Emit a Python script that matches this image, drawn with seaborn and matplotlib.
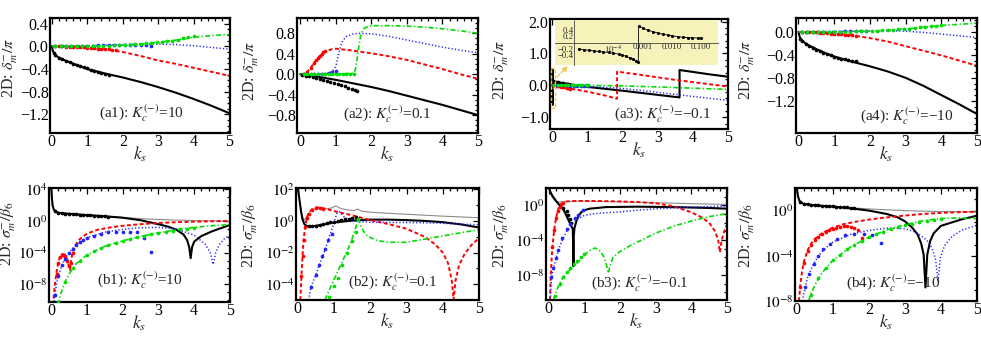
import numpy as np
import pandas as pd
import matplotlib
matplotlib.use("Agg")
import matplotlib.pyplot as plt
import seaborn as sns
from matplotlib.ticker import FixedLocator, FuncFormatter, MultipleLocator, NullFormatter

sns.set_style("white")
plt.rcParams.update({
    "font.family": "serif",
    "font.serif": ["Liberation Serif", "DejaVu Serif"],
    "mathtext.fontset": "stix",
    "axes.unicode_minus": True,
})

# ---------------- data: top row, phase shift delta/pi (k, value) ----------------
A1_BLACK = [(0, 0), (0.03, -0.08), (0.07, -0.13), (0.15, -0.18), (0.3, -0.23), (0.5, -0.28), (0.75, -0.34),
            (1.0, -0.40), (1.5, -0.48), (2.0, -0.55), (2.5, -0.63), (3.0, -0.72), (3.5, -0.82), (4.0, -0.93),
            (4.5, -1.05), (5.0, -1.18)]
A1_BLACK_DOTS = [(0.05, -0.12), (0.1, -0.16), (0.2, -0.2), (0.3, -0.23), (0.4, -0.26), (0.5, -0.28), (0.6, -0.31),
                 (0.7, -0.33), (0.8, -0.35), (0.9, -0.37), (1.0, -0.39), (1.1, -0.41), (1.2, -0.43), (1.3, -0.45),
                 (1.4, -0.47), (1.5, -0.49), (1.6, -0.5)]
A1_RED = [(0, 0), (0.5, -0.005), (1.0, -0.02), (1.5, -0.05), (2.0, -0.1), (2.5, -0.17), (3.0, -0.25), (3.5, -0.31),
          (4.0, -0.38), (4.5, -0.45), (5.0, -0.52)]
A1_RED_DOTS = [(0.1, 0), (0.2, 0), (0.3, 0), (0.4, -0.005), (0.5, -0.01), (0.6, -0.01), (0.7, -0.015), (0.8, -0.02),
               (0.9, -0.02), (1.0, -0.025), (1.1, -0.03), (1.2, -0.035), (1.3, -0.04), (1.4, -0.045), (1.5, -0.05),
               (1.6, -0.055), (1.7, -0.06), (1.8, -0.06)]
A1_BLUE = [(0, 0), (1.0, 0.01), (2.0, 0.03), (2.5, 0.04), (3.0, 0.04), (3.5, 0.03), (4.0, 0.01), (4.5, -0.02),
           (5.0, -0.05)]
A1_BLUE_DOTS = [(0.1, 0), (0.25, 0), (0.4, 0), (0.55, 0), (0.7, 0.005), (0.85, 0.005), (1.0, 0.01), (1.15, 0.01),
                (1.3, 0.015), (1.45, 0.015), (1.6, 0.02), (1.75, 0.02), (1.9, 0.025), (2.05, 0.025), (2.2, 0.03),
                (2.35, 0.03), (2.5, 0.03), (2.65, 0.02), (2.8, 0.0)]
A1_GREEN = [(0, 0), (1.0, 0.005), (2.0, 0.02), (2.5, 0.04), (3.0, 0.07), (3.5, 0.11), (4.0, 0.16), (4.5, 0.19),
            (5.0, 0.21)]
A1_GREEN_DOTS = [(0.1, 0), (0.25, 0), (0.4, 0), (0.55, 0), (0.7, 0), (0.85, 0), (1.0, 0.005), (1.15, 0.005),
                 (1.3, 0.01), (1.45, 0.01), (1.6, 0.01), (1.75, 0.015), (1.9, 0.02), (2.05, 0.02), (2.2, 0.03),
                 (2.35, 0.035), (2.5, 0.04), (2.65, 0.05), (2.8, 0.06), (2.95, 0.07), (3.1, 0.08), (3.25, 0.09),
                 (3.4, 0.1), (3.55, 0.12), (3.7, 0.14), (3.85, 0.16), (4.0, 0.18)]

A2_BLACK = [(0, 0), (0.5, -0.05), (1.0, -0.11), (1.5, -0.18), (2.0, -0.25), (2.5, -0.33), (3.0, -0.42), (3.5, -0.51),
            (4.0, -0.6), (4.5, -0.7), (5.0, -0.8)]
A2_BLACK_DOTS = [(0.05, -0.01), (0.15, -0.03), (0.25, -0.04), (0.35, -0.06), (0.45, -0.08), (0.55, -0.1),
                 (0.65, -0.11), (0.75, -0.13), (0.85, -0.15), (0.95, -0.17), (1.05, -0.19), (1.15, -0.21),
                 (1.25, -0.23), (1.35, -0.26), (1.45, -0.29), (1.55, -0.31), (1.6, -0.33)]
A2_RED = [(0, 0), (0.1, 0.01), (0.2, 0.05), (0.3, 0.13), (0.4, 0.23), (0.5, 0.32), (0.6, 0.39), (0.7, 0.44),
          (0.8, 0.47), (0.9, 0.49), (1.0, 0.5), (1.5, 0.46), (2.0, 0.41), (2.5, 0.35), (3.0, 0.28), (3.5, 0.19),
          (4.0, 0.1), (4.5, 0.0), (5.0, -0.09)]
A2_RED_DOTS = [(0.1, 0.01), (0.2, 0.04), (0.3, 0.12), (0.4, 0.22), (0.45, 0.27), (0.5, 0.32), (0.55, 0.36),
               (0.6, 0.4), (0.65, 0.43), (0.7, 0.46)]
A2_BLUE = [(0, 0), (0.5, 0.0), (0.8, 0.02), (0.9, 0.05), (1.0, 0.15), (1.05, 0.3), (1.1, 0.45), (1.15, 0.58),
           (1.2, 0.66), (1.3, 0.74), (1.5, 0.79), (1.7, 0.8), (2.0, 0.79), (2.5, 0.74), (3.0, 0.67), (3.5, 0.6),
           (4.0, 0.53), (4.5, 0.47), (5.0, 0.42)]
A2_BLUE_DOTS = [(0.1, 0), (0.2, 0), (0.3, 0), (0.4, 0), (0.5, 0), (0.6, 0.005), (0.7, 0.01), (0.8, 0.02),
                (0.9, 0.04), (1.0, 0.07)]
A2_GREEN = [(0, 0), (1.0, 0.0), (1.5, 0.02), (1.55, 0.08), (1.6, 0.3), (1.65, 0.55), (1.7, 0.75), (1.75, 0.85),
            (1.8, 0.9), (1.9, 0.93), (2.0, 0.95), (2.5, 0.95), (3.0, 0.94), (3.5, 0.92), (4.0, 0.89), (4.5, 0.85),
            (5.0, 0.8)]
A2_GREEN_DOTS = [(0.1, 0), (0.2, 0), (0.3, 0), (0.4, 0), (0.5, 0), (0.6, 0), (0.7, 0), (0.8, 0), (0.9, 0),
                 (1.0, 0.005), (1.1, 0.005), (1.2, 0.005), (1.3, 0.01), (1.4, 0.01), (1.5, 0.01)]

A3_BLACK = [(0.0, -0.15), (0.001, -0.62), (0.001, 0.5), (0.02, 0.15), (0.1, 0.1), (1.0, -0.05), (2.0, -0.17),
            (3.0, -0.3), (3.62, -0.38), (3.62, 0.48), (4.0, 0.42), (4.5, 0.34), (5.0, 0.27)]
A3_BLACK_DOTS = [(0.02, 0.12), (0.05, 0.11), (0.1, 0.1), (0.15, 0.09), (0.2, 0.08), (0.25, 0.07), (0.3, 0.06),
                 (0.35, 0.05), (0.4, 0.04), (0.45, 0.03), (0.5, 0.02)]
A3_RED = [(0, 0), (0.5, -0.1), (1.0, -0.2), (1.5, -0.32), (1.84, -0.42), (1.84, 0.43), (2.5, 0.33), (3.0, 0.25),
          (3.5, 0.17), (4.0, 0.1), (4.5, 0.03), (5.0, -0.04)]
A3_RED_DOTS = [(0.05, 0), (0.1, -0.01), (0.15, -0.02), (0.2, -0.03), (0.25, -0.04), (0.3, -0.05), (0.35, -0.06),
               (0.4, -0.08), (0.45, -0.09), (0.5, -0.1)]
A3_BLUE = [(0, 0), (0.5, 0.0), (1.0, -0.03), (2.0, -0.1), (3.0, -0.22), (4.0, -0.35), (5.0, -0.47)]
A3_BLUE_DOTS = [(0.1, 0), (0.2, 0), (0.3, 0), (0.4, -0.005), (0.5, -0.01), (0.6, -0.01), (0.7, -0.015),
                (0.8, -0.02), (0.9, -0.02), (1.0, -0.03)]
A3_GREEN = [(0, 0), (1.0, 0.0), (2.0, -0.02), (3.0, -0.05), (4.0, -0.09), (5.0, -0.13)]
A3_GREEN_DOTS = [(0.05, 0.02), (0.15, 0.02), (0.25, 0.02), (0.35, 0.02), (0.45, 0.02), (0.55, 0.015),
                 (0.65, 0.01), (0.75, 0.01), (0.85, 0.005), (0.95, 0.0), (1.0, 0.0)]

# inset of (a3): k on log axis
A3_INSET_LINE = [(6.5e-6, -0.2), (1.4e-5, -0.24), (3.2e-5, -0.28), (6.8e-5, -0.31), (1.5e-4, -0.36),
                 (2.75e-4, -0.43), (4.8e-4, -0.52), (7.1e-4, -0.62), (7.3e-4, 0.5), (1.0e-3, 0.45),
                 (1.55e-3, 0.38), (3.4e-3, 0.29), (7.2e-3, 0.23), (1.6e-2, 0.18), (3.5e-2, 0.15),
                 (7.6e-2, 0.14), (0.11, 0.13)]
A3_INSET_DOTS = [(6.5e-6, -0.2), (1.0e-5, -0.22), (1.5e-5, -0.24), (2.2e-5, -0.26), (3.2e-5, -0.27),
                 (4.5e-5, -0.29), (6.8e-5, -0.31), (1e-4, -0.33), (1.5e-4, -0.36), (2.0e-4, -0.39),
                 (2.8e-4, -0.43), (3.8e-4, -0.48), (4.8e-4, -0.52), (6.0e-4, -0.57), (7.1e-4, -0.62),
                 (7.5e-4, 0.5), (1.0e-3, 0.45), (1.5e-3, 0.38), (2.2e-3, 0.33), (3.4e-3, 0.29), (5e-3, 0.25),
                 (7.2e-3, 0.23), (1.0e-2, 0.21), (1.6e-2, 0.18), (2.5e-2, 0.16), (3.5e-2, 0.15), (5e-2, 0.145),
                 (7.6e-2, 0.14), (0.1, 0.13)]

A4_BLACK = [(0, 0), (0.03, -0.08), (0.07, -0.13), (0.15, -0.18), (0.3, -0.24), (0.5, -0.3), (0.75, -0.37),
            (1.0, -0.43), (1.5, -0.52), (2.0, -0.6), (2.5, -0.69), (3.0, -0.8), (3.5, -0.94), (4.0, -1.1),
            (4.5, -1.26), (5.0, -1.43)]
A4_BLACK_DOTS = [(0.05, -0.12), (0.1, -0.16), (0.2, -0.21), (0.3, -0.25), (0.4, -0.28), (0.5, -0.31), (0.6, -0.34),
                 (0.7, -0.37), (0.8, -0.39), (0.9, -0.41), (1.0, -0.43), (1.1, -0.45), (1.2, -0.47), (1.3, -0.48),
                 (1.4, -0.49), (1.5, -0.5), (1.6, -0.5)]
A4_RED = [(0, 0), (0.5, -0.01), (1.0, -0.03), (1.5, -0.06), (2.0, -0.11), (2.5, -0.17), (3.0, -0.25), (3.5, -0.33),
          (4.0, -0.41), (4.5, -0.5), (5.0, -0.59)]
A4_RED_DOTS = [(0.1, 0), (0.2, 0), (0.3, -0.005), (0.4, -0.01), (0.5, -0.01), (0.6, -0.015), (0.7, -0.02),
               (0.8, -0.025), (0.9, -0.03), (1.0, -0.035), (1.1, -0.04), (1.2, -0.045), (1.3, -0.05),
               (1.4, -0.055), (1.5, -0.06), (1.6, -0.07)]
A4_BLUE = [(0, 0), (1.0, 0.005), (2.0, 0.015), (2.5, 0.02), (3.0, 0.01), (3.5, -0.01), (4.0, -0.04), (4.5, -0.07),
           (5.0, -0.1)]
A4_BLUE_DOTS = [(0.1, 0), (0.25, 0), (0.4, 0), (0.55, 0.005), (0.7, 0.005), (0.85, 0.005), (1.0, 0.005),
                (1.15, 0.005), (1.3, 0.01), (1.45, 0.01), (1.6, 0.01), (1.75, 0.01), (1.9, 0.01)]
A4_GREEN = [(0, 0), (1.0, 0.003), (2.0, 0.01), (2.5, 0.03), (3.0, 0.05), (3.5, 0.08), (4.0, 0.11), (4.5, 0.13),
            (5.0, 0.15)]
A4_GREEN_DOTS = [(0.1, 0), (0.25, 0), (0.4, 0), (0.55, 0), (0.7, 0), (0.85, 0), (1.0, 0.003), (1.15, 0.003),
                 (1.3, 0.005), (1.45, 0.005), (1.6, 0.007), (1.75, 0.008), (1.9, 0.01), (2.05, 0.012),
                 (2.2, 0.018), (2.35, 0.024), (2.5, 0.03), (2.65, 0.036), (2.8, 0.042), (2.95, 0.048),
                 (3.1, 0.055), (3.25, 0.065), (3.4, 0.075), (3.55, 0.085), (3.7, 0.095), (3.85, 0.105), (4.0, 0.12)]

# ---------------- data: bottom row, cross section (k, log10 sigma/beta6) ----------------
B1_BLACK = [(0.005, 4.2), (0.02, 3.0), (0.04, 2.0), (0.07, 1.5), (0.12, 1.2), (0.2, 1.05), (0.4, 0.95), (0.7, 0.85),
            (1.0, 0.75), (1.5, 0.6), (2.0, 0.42), (2.5, 0.1), (3.0, -0.4), (3.3, -0.75), (3.5, -1.1), (3.7, -1.7),
            (3.8, -2.4), (3.86, -3.3), (3.9, -4.7), (3.94, -3.3), (4.0, -2.6), (4.2, -1.9), (4.5, -1.3),
            (5.0, -0.5)]
B1_BLACK_DOTS = [(0.1, 1.25), (0.2, 1.05), (0.3, 1.0), (0.4, 0.95), (0.5, 0.92), (0.6, 0.88), (0.7, 0.85),
                 (0.8, 0.82), (0.9, 0.78), (1.0, 0.75), (1.1, 0.72), (1.2, 0.69), (1.3, 0.66), (1.4, 0.63),
                 (1.5, 0.6), (1.6, 0.57)]
B1_GRAY = [(0.005, 4.2), (0.02, 3.0), (0.04, 2.0), (0.07, 1.5), (0.12, 1.2), (0.2, 1.05), (0.4, 0.95), (0.7, 0.85),
           (1.0, 0.75), (1.5, 0.6), (2.0, 0.45), (2.5, 0.3), (3.0, 0.2), (3.5, 0.12), (4.0, 0.06), (4.5, 0.02),
           (5.0, -0.02)]
B1_RED = [(0.05, -10.6), (0.1, -8.2), (0.15, -6.5), (0.2, -5.2), (0.25, -4.5), (0.3, -4.2), (0.35, -4.2),
          (0.4, -4.4), (0.45, -4.9), (0.5, -5.8), (0.53, -6.2), (0.56, -5.0), (0.6, -3.9), (0.7, -2.9), (0.8, -2.3),
          (1.0, -1.6), (1.3, -1.1), (1.6, -0.85), (2.0, -0.6), (2.5, -0.4), (3.0, -0.25), (3.5, -0.15),
          (4.0, -0.08), (4.5, -0.03), (5.0, 0.0)]
B1_RED_DOTS = [(0.15, -6.7), (0.2, -5.3), (0.25, -4.6), (0.3, -4.3), (0.35, -4.3), (0.4, -4.5), (0.45, -5.0),
               (0.5, -5.7), (0.55, -5.3), (0.6, -4.0)]
B1_BLUE = [(0.08, -10.6), (0.1, -9.5), (0.15, -8.0), (0.2, -7.0), (0.3, -5.6), (0.4, -4.7), (0.5, -4.0),
           (0.7, -3.0), (1.0, -2.1), (1.5, -1.4), (2.0, -1.05), (2.5, -0.85), (3.0, -0.8), (3.5, -1.0), (4.0, -1.8),
           (4.3, -2.9), (4.45, -4.0), (4.53, -5.5), (4.6, -4.0), (4.7, -3.0), (4.85, -2.2), (5.0, -1.75)]
B1_BLUE_DOTS = [(0.1, -9.4), (0.2, -7.0), (0.3, -5.6), (0.4, -4.8), (0.5, -4.1), (0.6, -3.5), (0.7, -3.0),
                (0.8, -2.7), (0.9, -2.4), (1.0, -2.2), (1.2, -1.85), (1.4, -1.6), (1.6, -1.45), (1.8, -1.35),
                (2.0, -1.35), (2.2, -1.35), (2.4, -1.45), (2.6, -2.1), (2.8, -3.9)]
B1_GREEN = [(0.18, -10.6), (0.25, -9.5), (0.3, -8.8), (0.4, -7.6), (0.5, -6.7), (0.7, -5.4), (1.0, -4.3),
            (1.5, -3.2), (2.0, -2.5), (2.5, -1.95), (3.0, -1.5), (3.5, -1.1), (4.0, -0.8), (4.5, -0.6), (5.0, -0.45)]
B1_GREEN_DOTS = [(0.2, -10.3), (0.4, -7.7), (0.6, -6.0), (0.8, -5.0), (1.0, -4.3), (1.2, -3.8), (1.4, -3.4),
                 (1.6, -3.05), (1.8, -2.75), (2.0, -2.5), (2.2, -2.3), (2.4, -2.05), (2.6, -1.85), (2.8, -1.7),
                 (3.0, -1.5), (3.2, -1.35), (3.4, -1.2), (3.6, -1.05), (3.8, -0.95), (4.0, -0.82)]

B2_BLACK = [(0.0, 2.1), (0.03, 1.6), (0.06, 1.1), (0.09, 0.6), (0.13, 0.1), (0.18, -0.2), (0.25, -0.33),
            (0.32, -0.36), (0.45, -0.33), (0.6, -0.27), (0.8, -0.18), (1.0, -0.1), (1.5, 0.02), (2.0, 0.08),
            (2.5, 0.08), (3.0, 0.05), (3.5, 0.0), (4.0, -0.08), (4.5, -0.22), (5.0, -0.42)]
B2_BLACK_DOTS = [(0.3, -0.35), (0.4, -0.33), (0.5, -0.3), (0.6, -0.25), (0.7, -0.2), (0.8, -0.15), (0.9, -0.1),
                 (1.0, -0.05), (1.1, 0.0), (1.2, 0.05), (1.3, 0.1), (1.4, 0.15), (1.5, 0.2), (1.6, 0.25)]
B2_GRAY = [(0.0, 2.1), (0.03, 1.6), (0.06, 1.1), (0.09, 0.6), (0.13, 0.2), (0.18, 0.05), (0.25, 0.3), (0.35, 0.65),
           (0.5, 0.8), (0.7, 0.75), (0.9, 0.8), (1.05, 0.95), (1.15, 0.82), (1.3, 0.72), (1.55, 0.65),
           (1.65, 0.75), (1.75, 0.62), (2.0, 0.55), (2.5, 0.48), (3.0, 0.42), (3.5, 0.36), (4.0, 0.3),
           (4.5, 0.25), (5.0, 0.2)]
B2_RED = [(0.07, -5.0), (0.1, -3.5), (0.13, -2.2), (0.16, -1.2), (0.2, -0.4), (0.25, 0.2), (0.3, 0.5), (0.4, 0.75),
          (0.5, 0.85), (0.6, 0.85), (0.8, 0.75), (1.0, 0.62), (1.5, 0.35), (2.0, 0.05), (2.5, -0.2), (3.0, -0.5),
          (3.5, -1.0), (3.8, -1.5), (4.0, -2.0), (4.15, -2.7), (4.25, -3.8), (4.3, -5.0), (4.35, -3.8),
          (4.45, -2.8), (4.6, -2.1), (4.8, -1.5), (5.0, -1.1)]
B2_RED_DOTS = [(0.1, -3.5), (0.13, -2.2), (0.16, -1.2), (0.2, -0.4), (0.25, 0.2), (0.3, 0.45), (0.4, 0.7),
               (0.5, 0.8), (0.6, 0.8), (0.7, 0.75)]
B2_BLUE = [(0.3, -5.0), (0.36, -4.2), (0.5, -3.4), (0.6, -2.75), (0.7, -2.15), (0.8, -1.5), (0.9, -0.8),
           (1.0, -0.1), (1.07, 0.45), (1.13, 0.6), (1.2, 0.45), (1.3, 0.2), (1.5, 0.0), (2.0, -0.08), (2.5, -0.1),
           (3.0, -0.1), (3.5, -0.12), (4.0, -0.15), (4.5, -0.2), (5.0, -0.25)]
B2_BLUE_DOTS = [(0.36, -4.2), (0.5, -3.4), (0.59, -2.8), (0.68, -2.25), (0.75, -1.75), (0.84, -1.2), (0.93, -0.8)]
B2_GREEN = [(0.75, -5.0), (0.9, -4.2), (1.0, -3.7), (1.2, -2.7), (1.4, -1.7), (1.5, -1.1), (1.6, -0.4),
            (1.67, 0.15), (1.72, -0.2), (1.8, -0.6), (1.9, -0.9), (2.0, -1.05), (2.2, -1.25), (2.5, -1.35),
            (3.0, -1.35), (3.5, -1.15), (4.0, -0.95), (4.5, -0.75), (5.0, -0.55)]
B2_GREEN_DOTS = [(0.87, -4.8), (1.0, -4.1), (1.1, -3.6), (1.23, -2.8), (1.37, -2.0), (1.5, -1.3), (1.6, -0.7),
                 (1.67, 0.1)]

B3_BLACK = [(0.0, 2.0), (0.05, 1.5), (0.1, 1.1), (0.17, 0.7), (0.25, 0.25), (0.36, -0.2), (0.45, -0.8),
            (0.55, -1.7), (0.62, -2.3), (0.67, -2.7), (0.68, -4.0), (0.69, -7.0), (0.7, -3.5), (0.72, -2.6),
            (0.78, -1.7), (0.85, -1.1), (0.92, -0.75), (1.0, -0.55), (1.15, -0.38), (1.6, -0.2), (2.5, -0.15),
            (3.5, -0.2), (4.5, -0.3), (5.0, -0.38)]
B3_BLACK_DOTS = [(0.3, 0.0), (0.4, -0.35), (0.5, -0.7), (0.55, -1.1), (0.6, -1.6), (0.63, -2.0)]
B3_GRAY = [(0.0, 2.0), (0.05, 1.3), (0.1, 0.9), (0.15, 0.6), (0.2, 0.45), (0.3, 0.4), (0.5, 0.45), (0.8, 0.5),
           (1.0, 0.5), (1.5, 0.45), (2.0, 0.4), (3.0, 0.3), (4.0, 0.2), (5.0, 0.1)]
B3_RED = [(0.03, -10.9), (0.05, -8.5), (0.08, -6.0), (0.1, -4.8), (0.15, -2.8), (0.2, -1.5), (0.25, -0.6),
          (0.3, -0.1), (0.4, 0.3), (0.5, 0.45), (0.7, 0.5), (1.0, 0.5), (1.5, 0.5), (2.0, 0.45), (2.5, 0.38),
          (3.0, 0.25), (3.5, -0.1), (4.0, -0.8), (4.3, -1.4), (4.5, -2.0), (4.65, -2.9), (4.75, -3.9),
          (4.8, -5.4), (4.85, -4.0), (4.92, -3.0), (5.0, -2.2)]
B3_RED_DOTS = [(0.1, -4.8), (0.15, -2.8), (0.2, -1.5), (0.25, -0.7), (0.3, -0.2), (0.35, 0.1), (0.4, 0.25)]
B3_BLUE = [(0.04, -10.9), (0.07, -8.6), (0.12, -7.4), (0.2, -6.1), (0.3, -4.8), (0.4, -3.8), (0.5, -3.0),
           (0.6, -2.4), (0.7, -1.95), (0.8, -1.6), (1.0, -1.15), (1.3, -0.95), (1.6, -0.85), (2.0, -0.75),
           (2.5, -0.55), (3.0, -0.4), (3.5, -0.3), (4.0, -0.2), (4.5, -0.13), (5.0, -0.08)]
B3_BLUE_DOTS = [(0.07, -8.2), (0.12, -7.2), (0.19, -6.1), (0.26, -5.1), (0.36, -3.8), (0.5, -2.7), (0.59, -2.1),
                (0.73, -1.5), (0.82, -1.1), (0.96, -0.5)]
B3_GREEN = [(0.13, -10.9), (0.2, -10.0), (0.3, -9.0), (0.4, -8.3), (0.5, -7.8), (0.7, -7.0), (0.9, -6.2),
            (1.1, -5.3), (1.3, -4.9), (1.45, -5.3), (1.55, -6.0), (1.62, -6.9), (1.67, -7.8), (1.72, -6.9),
            (1.8, -6.0), (2.0, -5.3), (2.3, -4.6), (2.6, -4.0), (3.0, -3.2), (3.5, -2.4), (4.0, -1.8), (4.5, -1.3),
            (5.0, -0.95)]
B3_GREEN_DOTS = [(0.17, -10.4), (0.3, -9.0), (0.4, -8.3), (0.5, -7.7), (0.6, -7.2), (0.7, -6.8), (0.8, -6.4),
                 (0.9, -6.0), (1.0, -5.6)]

B4_BLACK = [(0.0, 2.0), (0.03, 1.3), (0.07, 0.9), (0.12, 0.7), (0.2, 0.6), (0.4, 0.5), (0.7, 0.42), (1.0, 0.35),
            (1.5, 0.2), (2.0, 0.0), (2.5, -0.3), (2.8, -0.6), (3.0, -0.95), (3.2, -1.5), (3.35, -2.1), (3.45, -2.9),
            (3.52, -3.9), (3.57, -6.8), (3.62, -3.9), (3.7, -2.7), (3.8, -2.0), (4.0, -1.35), (4.3, -1.05),
            (4.6, -0.75), (5.0, -0.45)]
B4_BLACK_DOTS = [(0.1, 0.75), (0.2, 0.62), (0.3, 0.56), (0.4, 0.52), (0.5, 0.49), (0.6, 0.46), (0.7, 0.44),
                 (0.8, 0.42), (0.9, 0.4), (1.0, 0.37), (1.1, 0.35), (1.2, 0.33), (1.3, 0.31), (1.4, 0.29),
                 (1.5, 0.27), (1.6, 0.25)]
B4_GRAY = [(0.0, 2.0), (0.03, 1.3), (0.07, 0.9), (0.12, 0.7), (0.2, 0.6), (0.4, 0.5), (0.7, 0.42), (1.0, 0.35),
           (1.5, 0.25), (2.0, 0.15), (2.5, 0.07), (3.0, 0.0), (3.5, -0.05), (4.0, -0.08), (4.5, -0.1), (5.0, -0.12)]
B4_RED = [(0.06, -8.0), (0.1, -6.5), (0.15, -5.3), (0.2, -4.5), (0.3, -3.5), (0.4, -2.9), (0.5, -2.5), (0.7, -2.0),
          (1.0, -1.5), (1.3, -1.2), (1.6, -1.0), (2.0, -0.8), (2.5, -0.6), (3.0, -0.44), (3.5, -0.3), (4.0, -0.2),
          (4.5, -0.14), (5.0, -0.1)]
B4_RED_DOTS = [(0.1, -6.8), (0.2, -4.6), (0.3, -3.6), (0.4, -3.0), (0.5, -2.6), (0.6, -2.3), (0.7, -2.1),
               (0.8, -1.9), (0.9, -1.75), (1.0, -1.6), (1.1, -1.5), (1.2, -1.45), (1.3, -1.4), (1.4, -1.4),
               (1.5, -1.45), (1.6, -1.55), (1.7, -1.75), (1.82, -2.4)]
B4_BLUE = [(0.15, -8.0), (0.2, -7.3), (0.3, -5.9), (0.45, -4.8), (0.6, -4.0), (0.8, -3.3), (1.0, -2.8), (1.5, -2.1),
           (2.0, -1.75), (2.5, -1.55), (3.0, -1.6), (3.3, -1.9), (3.6, -2.6), (3.75, -3.3), (3.85, -4.3),
           (3.92, -6.3), (3.98, -4.2), (4.1, -3.1), (4.3, -2.3), (4.6, -1.7), (5.0, -1.3)]
B4_BLUE_DOTS = [(0.23, -6.8), (0.33, -5.6), (0.47, -4.7), (0.6, -4.0), (0.74, -3.4), (0.93, -2.95), (1.12, -2.55),
                (1.35, -2.2), (1.58, -2.05), (1.86, -2.05), (2.1, -2.2), (2.33, -2.85)]
B4_GREEN = [(0.33, -8.0), (0.4, -7.3), (0.5, -6.6), (0.7, -5.5), (1.0, -4.4), (1.5, -3.2), (2.0, -2.35),
            (2.5, -1.7), (3.0, -1.25), (3.5, -0.9), (4.0, -0.7), (4.5, -0.65), (5.0, -0.72)]
B4_GREEN_DOTS = [(0.4, -7.5), (0.6, -6.0), (0.8, -5.1), (1.0, -4.4), (1.2, -3.9), (1.4, -3.4), (1.6, -3.0),
                 (1.8, -2.65), (2.0, -2.35), (2.2, -2.1), (2.4, -1.85), (2.6, -1.65), (2.8, -1.45), (3.0, -1.3),
                 (3.2, -1.15), (3.4, -1.0), (3.6, -0.9), (3.8, -0.8), (4.0, -0.72)]

TOP_LABELS = ["(a1): $K_c^{(-)}$=10", "(a2): $K_c^{(-)}$=0.1", "(a3): $K_c^{(-)}$=\u22120.1",
              "(a4): $K_c^{(-)}$=\u221210"]
BOTTOM_LABELS = ["(b1): $K_c^{(-)}$=10", "(b2): $K_c^{(-)}$=0.1", "(b3): $K_c^{(-)}$=\u22120.1",
                 "(b4): $K_c^{(-)}$=\u221210"]
X_TICKS = [0, 1, 2, 3, 4, 5]

# ---------------- styles ----------------
C_BLACK, C_RED, C_BLUE, C_GREEN, C_GRAY = "#000000", "#FF0000", "#2222FF", "#00DD00", "#8C8C8C"
STY = {
    "black": dict(color=C_BLACK, ls="-", lw=1.5),
    "red": dict(color=C_RED, ls=(0, (2.0, 1.3)), lw=1.4),
    "blue": dict(color=C_BLUE, ls=(0, (0.8, 1.4)), lw=1.1),
    "green": dict(color=C_GREEN, ls=(0, (3.0, 1.4, 0.8, 1.4)), lw=1.2),
    "gray": dict(color=C_GRAY, ls="-", lw=0.8),
}
TICK_FS = 11.5
LOG_TICK_FS = 11
YLAB_FS = 11.5


def draw_line(ax, pts, key, log=False):
    df = pd.DataFrame(pts, columns=["k", "v"])
    if log:
        df["v"] = 10.0 ** df["v"]
    st = STY[key]
    sns.lineplot(data=df, x="k", y="v", ax=ax, color=st["color"], linewidth=st["lw"],
                 linestyle=st["ls"], sort=False, estimator=None, errorbar=None, zorder=2)


def draw_dots(ax, pts, key, log=False, s=7):
    df = pd.DataFrame(pts, columns=["k", "v"])
    if log:
        df["v"] = 10.0 ** df["v"]
    sns.scatterplot(data=df, x="k", y="v", ax=ax, color=STY[key]["color"], s=s, linewidth=0,
                    zorder=3, legend=False)


def fmt_lin(v, pos):
    s = f"{v:.1f}"
    if s == "-0.0":
        s = "0.0"
    return s.replace("-", "\u2212")


def style_axes(ax):
    for sp in ax.spines.values():
        sp.set_linewidth(1.6)
        sp.set_color("black")
    ax.tick_params(which="both", direction="in", top=True, right=True, labelsize=TICK_FS,
                   width=0.9, pad=1.0, colors="black")
    ax.tick_params(which="major", length=4.5)
    ax.tick_params(which="minor", length=2.3)
    ax.xaxis.set_major_locator(FixedLocator(X_TICKS))
    ax.xaxis.set_minor_locator(MultipleLocator(0.2))
    ax.set_xlabel("$k_s$", fontsize=12.5, labelpad=-4)


W, H = 981, 338


def rect(l, r, t, b):
    return [l / W, 1 - b / H, (r - l) / W, (b - t) / H]


fig = plt.figure(figsize=(9.81, 3.38), dpi=100)

top_cfg = [
    (rect(50, 230, 18, 133), (-0.05, 5.02), (-1.53, 0.5), [0.4, 0.0, -0.4, -0.8, -1.2], 0.1,
     [A1_BLACK, A1_RED, A1_BLUE, A1_GREEN], [A1_BLACK_DOTS, A1_RED_DOTS, A1_BLUE_DOTS, A1_GREEN_DOTS],
     (0.51, 0.17), (-0.165, 0.57)),
    (rect(297, 478, 18, 133), (-0.09, 5.0), (-1.15, 1.1), [0.8, 0.4, 0.0, -0.4, -0.8], 0.1,
     [A2_BLACK, A2_RED, A2_BLUE, A2_GREEN], [A2_BLACK_DOTS, A2_RED_DOTS, A2_BLUE_DOTS, A2_GREEN_DOTS],
     (0.5, 0.16), (-0.20, 0.54)),
    (rect(550, 728, 19, 129), (-0.07, 5.0), (-1.37, 2.08), [2.0, 1.0, 0.0, -1.0], 0.2,
     [A3_BLACK, A3_RED, A3_BLUE, A3_GREEN], [A3_BLACK_DOTS, A3_RED_DOTS, A3_BLUE_DOTS, A3_GREEN_DOTS],
     (0.63, 0.13), (-0.22, 0.54)),
    (rect(796, 977, 18, 133), (-0.07, 5.0), (-1.76, 0.24), [0.0, -0.4, -0.8, -1.2], 0.1,
     [A4_BLACK, A4_RED, A4_BLUE, A4_GREEN], [A4_BLACK_DOTS, A4_RED_DOTS, A4_BLUE_DOTS, A4_GREEN_DOTS],
     (0.61, 0.15), (-0.215, 0.55)),
]

bot_cfg = [
    (rect(49, 230, 188, 302), (-0.06, 5.0), (-10.25, 4.18), [4, 0, -4, -8],
     [B1_GRAY, B1_BLACK, B1_RED, B1_BLUE, B1_GREEN], [B1_BLACK_DOTS, B1_RED_DOTS, B1_BLUE_DOTS, B1_GREEN_DOTS],
     (0.5, 0.19), (-0.172, 0.6)),
    (rect(296, 479, 188, 300), (-0.05, 5.0), (-5.0, 2.08), [2, 0, -2, -4],
     [B2_GRAY, B2_BLACK, B2_RED, B2_BLUE, B2_GREEN], [B2_BLACK_DOTS, B2_RED_DOTS, B2_BLUE_DOTS, B2_GREEN_DOTS],
     (0.53, 0.16), (-0.197, 0.58)),
    (rect(546, 727, 188, 300), (-0.08, 5.0), (-10.9, 2.0), [0, -4, -8],
     [B3_GRAY, B3_BLACK, B3_RED, B3_BLUE, B3_GREEN], [B3_BLACK_DOTS, B3_RED_DOTS, B3_BLUE_DOTS, B3_GREEN_DOTS],
     (0.52, 0.15), (-0.193, 0.58)),
    (rect(795, 977, 188, 301), (-0.05, 5.0), (-8.0, 2.0), [0, -4, -8],
     [B4_GRAY, B4_BLACK, B4_RED, B4_BLUE, B4_GREEN], [B4_BLACK_DOTS, B4_RED_DOTS, B4_BLUE_DOTS, B4_GREEN_DOTS],
     (0.54, 0.16), (-0.209, 0.58)),
]

line_keys = ["black", "red", "blue", "green"]
top_axes = []
for i, (r, xl, yl, yt, ymin, lines, dots, tpos, lpos) in enumerate(top_cfg):
    ax = fig.add_axes(r)
    for key, pts in zip(line_keys, lines):
        draw_line(ax, pts, key)
    for key, pts in zip(line_keys, dots):
        draw_dots(ax, pts, key)
    ax.set_xlim(*xl)
    ax.set_ylim(*yl)
    style_axes(ax)
    ax.yaxis.set_major_locator(FixedLocator(yt))
    ax.yaxis.set_minor_locator(MultipleLocator(ymin))
    ax.yaxis.set_major_formatter(FuncFormatter(fmt_lin))
    ax.set_ylabel("2D: $\\delta_m^{-}/\\pi$", fontsize=YLAB_FS)
    ax.yaxis.set_label_coords(*lpos)
    ax.text(tpos[0], tpos[1], TOP_LABELS[i], transform=ax.transAxes, ha="center", va="center", fontsize=11)
    top_axes.append(ax)

for i, (r, xl, yl, yt, lines, dots, tpos, lpos) in enumerate(bot_cfg):
    ax = fig.add_axes(r)
    ax.set_yscale("log")
    for key, pts in zip(["gray"] + line_keys, lines):
        draw_line(ax, pts, key, log=True)
    for key, pts in zip(line_keys, dots):
        draw_dots(ax, pts, key, log=True)
    ax.set_xlim(*xl)
    ax.set_ylim(10.0 ** yl[0], 10.0 ** yl[1])
    style_axes(ax)
    ax.tick_params(axis="y", labelsize=LOG_TICK_FS)
    ax.yaxis.set_major_locator(FixedLocator([10.0 ** e for e in yt]))
    ax.yaxis.set_major_formatter(FuncFormatter(lambda v, p: "$10^{%d}$" % int(round(np.log10(v)))))
    dec = list(range(int(np.floor(yl[0])), int(np.ceil(yl[1])) + 1))
    ax.yaxis.set_minor_locator(FixedLocator([10.0 ** e for e in dec]))
    ax.yaxis.set_minor_formatter(NullFormatter())
    ax.set_ylabel("2D: $\\sigma_m^{-}/\\beta_6$", fontsize=YLAB_FS)
    ax.yaxis.set_label_coords(*lpos)
    ax.text(tpos[0], tpos[1], BOTTOM_LABELS[i], transform=ax.transAxes, ha="center", va="center", fontsize=11)

# yellow zoom marker in (a3)
ax3 = top_axes[2]
YEL = "#F2C550"
ax3.plot([-0.04, 0.08, 0.08, -0.04, -0.04], [0.55, 0.55, -0.7, -0.7, 0.55], color=YEL, lw=1.0,
         ls=(0, (2.5, 1.5)), zorder=4, clip_on=False)
ax3.annotate("", xy=(0.5, 0.66), xytext=(0.08, 0.21),
             arrowprops=dict(arrowstyle="-|>", color=YEL, lw=1.0, ls=(0, (2.5, 1.5)), mutation_scale=7))

# inset of (a3)
ins = fig.add_axes([555 / W, 1 - 65 / H, 163 / W, 45 / H])
ins.set_facecolor("#F7F2BA")
ins.set_xscale("log")
dfi = pd.DataFrame(A3_INSET_LINE, columns=["k", "v"])
sns.lineplot(data=dfi, x="k", y="v", ax=ins, color="black", linewidth=0.6, sort=False, estimator=None,
             errorbar=None)
dfd = pd.DataFrame(A3_INSET_DOTS, columns=["k", "v"])
sns.scatterplot(data=dfd, x="k", y="v", ax=ins, color="black", s=5, linewidth=0, legend=False, zorder=3)
ins.set_xlim(1e-6, 10 ** -0.42)
ins.set_ylim(-0.7, 0.7)
ins.spines["top"].set_visible(False)
ins.spines["right"].set_visible(False)
ins.spines["left"].set_position(("data", 4.5e-6))
ins.spines["bottom"].set_position(("data", 0.0))
for s in ("left", "bottom"):
    ins.spines[s].set_linewidth(0.6)
    ins.spines[s].set_color("#444444")
ins.set_xticks([1e-4, 1e-3, 1e-2, 1e-1])
ins.set_xticklabels(["$10^{-4}$", "0.001", "0.010", "0.100"])
ins.xaxis.set_minor_locator(FixedLocator([]))
ins.set_yticks([-0.4, -0.2, 0.2, 0.4])
ins.set_yticklabels(["\u22120.4", "\u22120.2", "0.2", "0.4"])
ins.tick_params(labelsize=6.3, length=2, width=0.5, pad=0.5, direction="in")
ins.set_xlabel("")
ins.set_ylabel("")

fig.savefig("out.png", dpi=100)
